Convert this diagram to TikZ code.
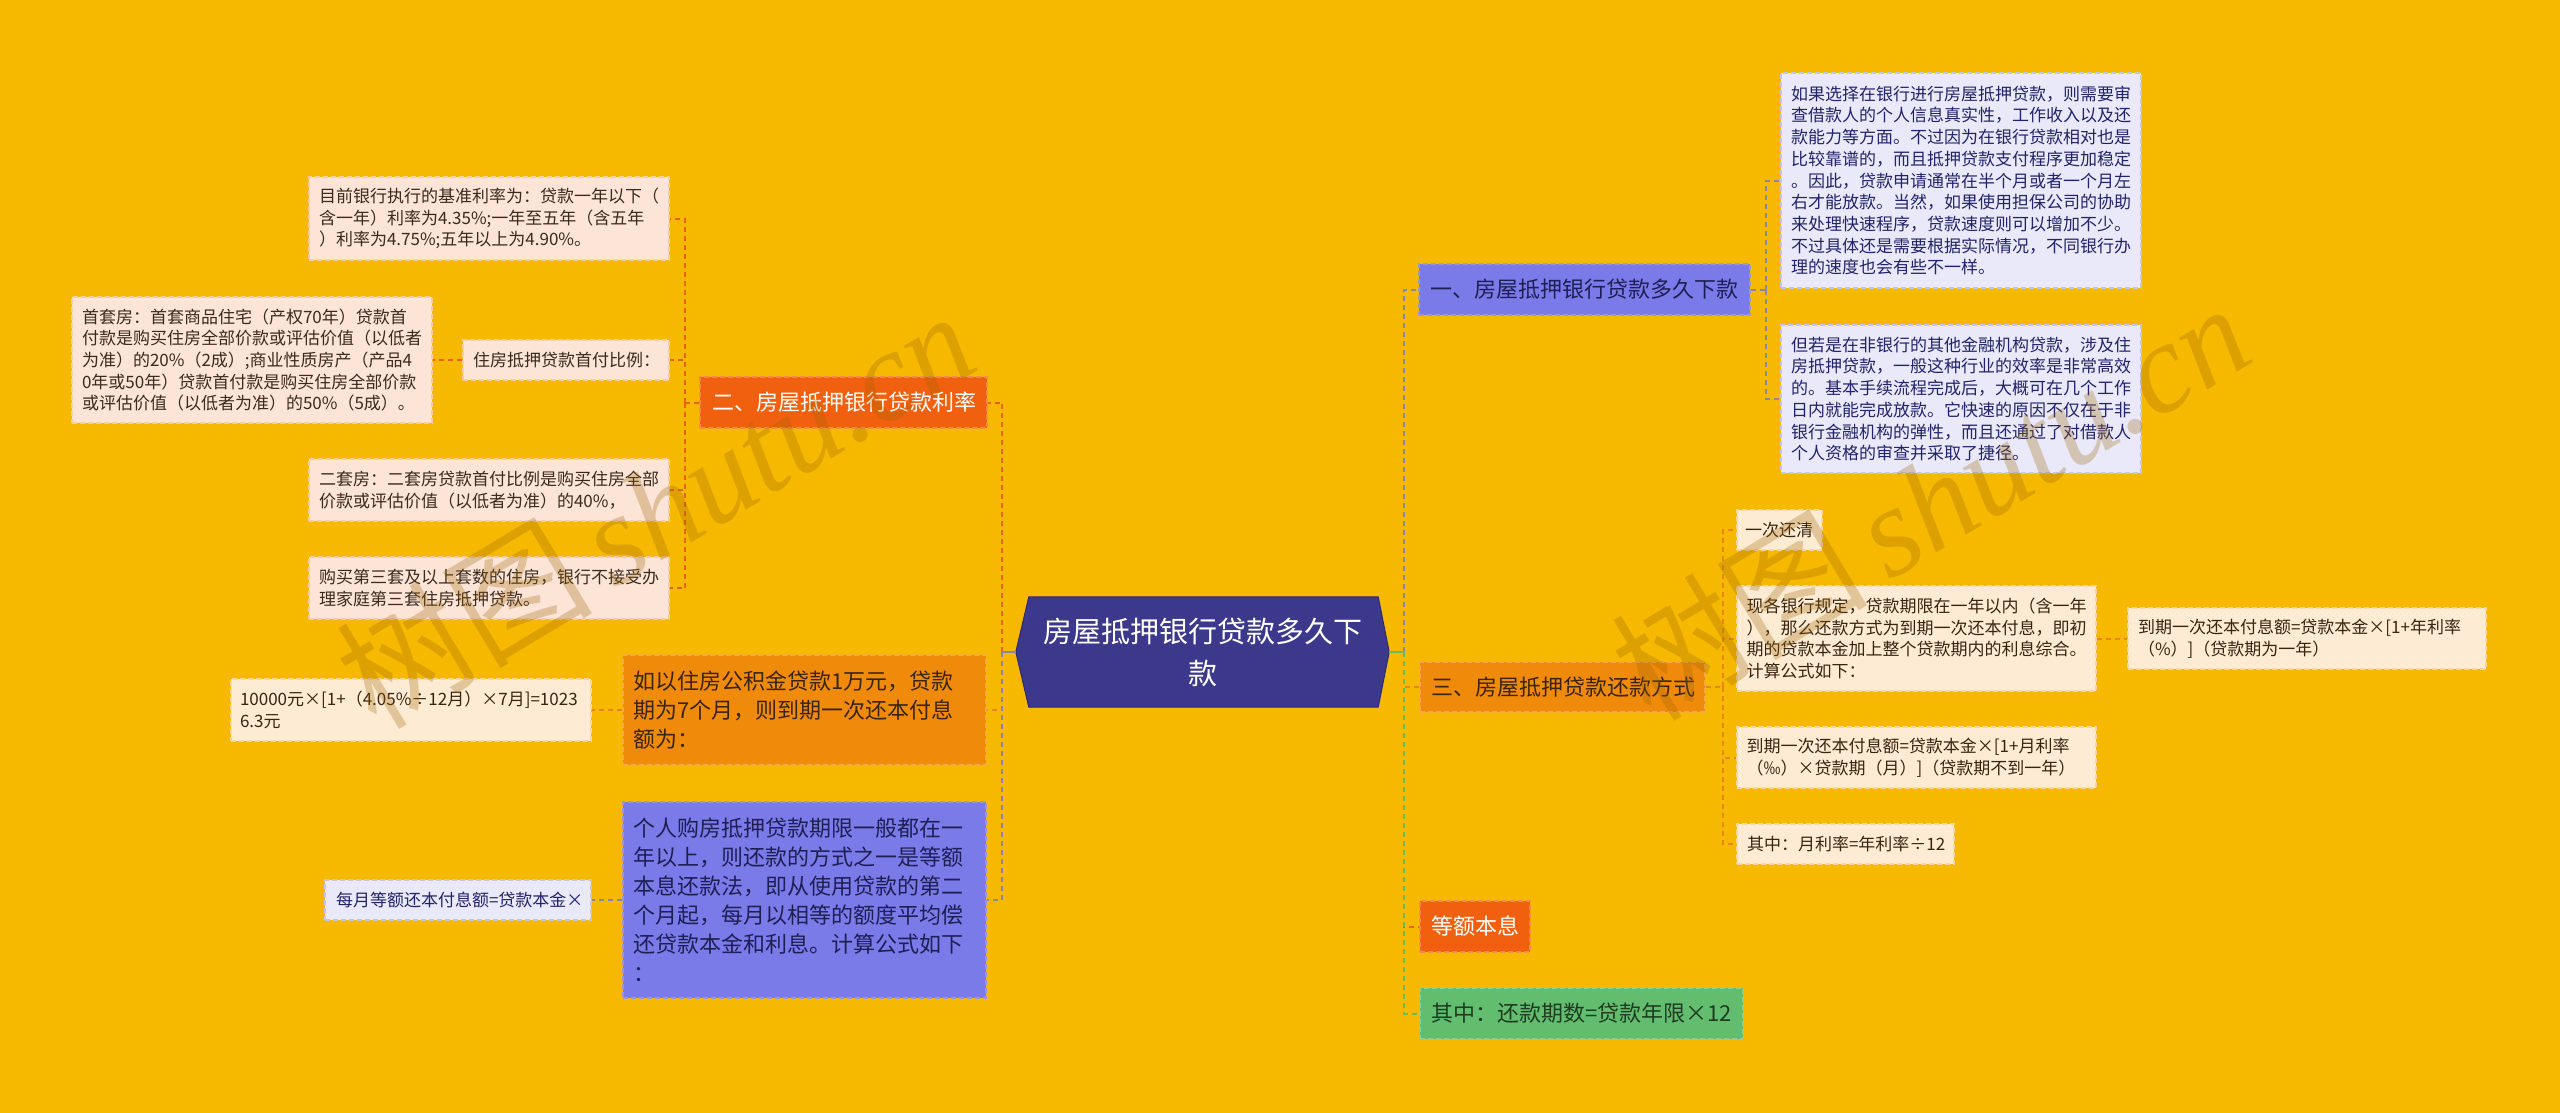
\documentclass[tikz,border=0pt]{standalone}
\usepackage{fontspec}
\setmainfont{Noto Sans CJK SC}
\newfontfamily\wmlatin{Liberation Serif}
\usetikzlibrary{backgrounds}
\definecolor{bgc}{HTML}{F6B900}
\definecolor{centerfill}{HTML}{3C388C}
\definecolor{centerline}{HTML}{2E2A70}
\definecolor{peach}{HTML}{FCE4D6}
\definecolor{peachline}{HTML}{F5CDAA}
\definecolor{cream}{HTML}{FDEBD3}
\definecolor{creamline}{HTML}{F5D6A6}
\definecolor{lav}{HTML}{E9E9F9}
\definecolor{lavline}{HTML}{C4C4EC}
\definecolor{redf}{HTML}{F0600F}
\definecolor{redl}{HTML}{F58A4A}
\definecolor{orf}{HTML}{F08A0A}
\definecolor{orl}{HTML}{F5A848}
\definecolor{bluef}{HTML}{7A7AE8}
\definecolor{bluel}{HTML}{9A98D0}
\definecolor{greenf}{HTML}{62BE6E}
\definecolor{greenl}{HTML}{8AD396}
\definecolor{tpeach}{HTML}{3B2A1E}
\definecolor{tnavy}{HTML}{23236B}
\definecolor{tdark}{HTML}{3A2410}
\definecolor{tblue}{HTML}{1F1F55}
\definecolor{tgreen}{HTML}{1F3B22}
\definecolor{cred}{HTML}{E8621A}
\definecolor{corange}{HTML}{E8861A}
\definecolor{cgray}{HTML}{8A86AA}
\definecolor{cgreen}{HTML}{6ABD55}
\definecolor{wmc}{HTML}{9A6400}
\tikzset{
  conn/.style={line width=2pt, dash pattern=on 5pt off 4pt},
  solidconn/.style={line width=2pt},
  nd/.style={rectangle, inner xsep=10pt, inner ysep=0pt, align=left, line width=1.3pt, dash pattern=on 5pt off 3pt},
  leaf/.style={nd, font=\fontsize{17}{21.7}\selectfont},
  branch/.style={nd, font=\fontsize{22}{29}\selectfont},
  peachbox/.style={fill=peach, draw=peachline, text=tpeach},
  creambox/.style={fill=cream, draw=creamline, text=tdark},
  lavbox/.style={fill=lav, draw=lavline, text=tnavy},
  redbox/.style={fill=redf, draw=redl, text=white},
  orangebox/.style={fill=orf, draw=orl, text=tdark},
  bluebox/.style={fill=bluef, draw=bluel, text=tblue},
  greenbox/.style={fill=greenf, draw=greenl, text=tgreen},
  wm/.style={text=wmc, opacity=0.28, inner sep=0pt},
}
\begin{document}
\begin{tikzpicture}[x=1pt,y=-1pt]
\useasboundingbox (0,0) rectangle (2560,1113);

% center
\node[align=center, text=white, minimum width=373pt, minimum height=110pt, inner sep=0pt,
      font=\fontsize{29}{42}\selectfont] (C) at (1202.5,652) {房屋抵押银行贷款多久下\\款};

% left: branch 2
\node[branch, redbox, text width=263pt, minimum height=51pt, inner xsep=12pt] (B2) at (843.5,402.5) {二、房屋抵押银行贷款利率};
\node[leaf, peachbox, text width=340pt, minimum height=83pt] (L1) at (489,218.5)
  {目前银行执行的基准利率为：贷款一年以下（\\含一年）利率为4.35\%;一年至五年（含五年\\）利率为4.75\%;五年以上为4.90\%。};
\node[leaf, peachbox, text width=186pt, minimum height=40pt] (L2) at (566,360) {住房抵押贷款首付比例：};
\node[leaf, peachbox, text width=340pt, minimum height=126pt] (L2a) at (252,360)
  {首套房：首套商品住宅（产权70年）贷款首\\付款是购买住房全部价款或评估价值（以低者\\为准）的20\%（2成）;商业性质房产（产品4\\0年或50年）贷款首付款是购买住房全部价款\\或评估价值（以低者为准）的50\%（5成）。};
\node[leaf, peachbox, text width=340pt, minimum height=62pt] (L3) at (489,490)
  {二套房：二套房贷款首付比例是购买住房全部\\价款或评估价值（以低者为准）的40\%，};
\node[leaf, peachbox, text width=340pt, minimum height=62pt] (L4) at (489,588)
  {购买第三套及以上套数的住房，银行不接受办\\理家庭第三套住房抵押贷款。};

% left: branch 4
\node[branch, orangebox, text width=343pt, minimum height=110pt] (B4) at (804.5,710)
  {如以住房公积金贷款1万元，贷款\\期为7个月，则到期一次还本付息\\额为：};
\node[leaf, creambox, text width=342pt, minimum height=62pt, inner xsep=9pt] (B4c) at (411,710)
  {10000元×[1+（4.05\%÷12月）×7月]=1023\\6.3元};

% left: branch 5
\node[branch, bluebox, text width=343pt, minimum height=196pt] (B5) at (804.5,900)
  {个人购房抵押贷款期限一般都在一\\年以上，则还款的方式之一是等额\\本息还款法，即从使用贷款的第二\\个月起，每月以相等的额度平均偿\\还贷款本金和利息。计算公式如下\\：};
\node[leaf, lavbox, text width=244pt, minimum height=40pt, inner xsep=11pt] (B5c) at (458,900) {每月等额还本付息额=贷款本金×};

% right: branch 1
\node[branch, bluebox, text width=309pt, minimum height=51pt, inner xsep=11pt] (B1) at (1584.5,289.5) {一、房屋抵押银行贷款多久下款};
\node[leaf, lavbox, text width=340pt, minimum height=215pt] (R1a) at (1961,180.5)
  {如果选择在银行进行房屋抵押贷款，则需要审\\查借款人的个人信息真实性，工作收入以及还\\款能力等方面。不过因为在银行贷款相对也是\\比较靠谱的，而且抵押贷款支付程序更加稳定\\。因此，贷款申请通常在半个月或者一个月左\\右才能放款。当然，如果使用担保公司的协助\\来处理快速程序，贷款速度则可以增加不少。\\不过具体还是需要根据实际情况，不同银行办\\理的速度也会有些不一样。};
\node[leaf, lavbox, text width=340pt, minimum height=148pt] (R1b) at (1961,399)
  {但若是在非银行的其他金融机构贷款，涉及住\\房抵押贷款，一般这种行业的效率是非常高效\\的。基本手续流程完成后，大概可在几个工作\\日内就能完成放款。它快速的原因不仅在于非\\银行金融机构的弹性，而且还通过了对借款人\\个人资格的审查并采取了捷径。};

% right: branch 3
\node[branch, orangebox, text width=263pt, minimum height=50pt, inner xsep=11pt] (B3) at (1562.5,687) {三、房屋抵押贷款还款方式};
\node[leaf, creambox, text width=69pt, minimum height=40pt, inner xsep=8pt] (R3a) at (1779.5,530) {一次还清};
\node[leaf, creambox, text width=340pt, minimum height=105pt, inner xsep=9.5pt] (R3b) at (1916.5,638.5)
  {现各银行规定，贷款期限在一年以内（含一年\\），那么还款方式为到期一次还本付息，即初\\期的贷款本金加上整个贷款期内的利息综合。\\计算公式如下：};
\node[leaf, creambox, text width=338pt, minimum height=61pt] (R3bc) at (2307,638.5)
  {到期一次还本付息额=贷款本金×[1+年利率\\（\%）]（贷款期为一年）};
\node[leaf, creambox, text width=340pt, minimum height=61pt, inner xsep=9.5pt] (R3c) at (1916.5,757.5)
  {到期一次还本付息额=贷款本金×[1+月利率\\（‰）×贷款期（月）]（贷款期不到一年）};
\node[leaf, creambox, text width=197pt, minimum height=40pt] (R3d) at (1845.5,844) {其中：月利率=年利率÷12};

% right: branches 6, 7
\node[branch, redbox, text width=88pt, minimum height=51pt, inner xsep=11pt] (B6) at (1475,926.5) {等额本息};
\node[branch, greenbox, text width=301pt, minimum height=51pt, inner xsep=11pt] (B7) at (1581.5,1013.5) {其中：还款期数=贷款年限×12};

% background and hexagon
\begin{scope}[on background layer]
  \fill[bgc] (0,0) rectangle (2560,1113);
  \filldraw[fill=centerfill, draw=centerline, line width=1pt]
    (C.west) -- ([xshift=13pt]C.north west) -- ([xshift=-11pt]C.north east) -- (C.east)
    -- ([xshift=-11pt]C.south east) -- ([xshift=13pt]C.south west) -- cycle;
\end{scope}

% junctions
\coordinate (jl) at (1002,652);
\coordinate (j2) at (685,402.5);
\coordinate (jr) at (1404,652);
\coordinate (j1) at (1766,289.5);
\coordinate (j3) at (1723,687);

% left connectors
\draw[conn, cred] (jl) |- (B2.east);
\draw[conn, corange] (jl) |- (B4.east);
\draw[conn, cgray] (jl) |- (B5.east);
\draw[solidconn, cgray] (C.west) -- (jl);
\draw[conn, cred] (B2.west) -- (j2);
\draw[conn, cred] (j2) |- (L1.east);
\draw[conn, cred] (j2) |- (L2.east);
\draw[conn, cred] (j2) |- (L3.east);
\draw[conn, cred] (j2) |- (L4.east);
\draw[conn, cred] (L2.west) -- (L2a.east);
\draw[conn, corange] (B4.west) -- (B4c.east);
\draw[conn, cgray] (B5.west) -- (B5c.east);

% right connectors
\draw[conn, cgray] (jr) |- (B1.west);
\draw[conn, corange] (jr) |- (B3.west);
\draw[conn, cred] (jr) |- (B6.west);
\draw[conn, cgreen] (jr) |- (B7.west);
\draw[solidconn, cgreen] (C.east) -- (jr);
\draw[conn, cgray] (B1.east) -- (j1);
\draw[conn, cgray] (j1) |- (R1a.west);
\draw[conn, cgray] (j1) |- (R1b.west);
\draw[conn, corange] (B3.east) -- (j3);
\draw[conn, corange] (j3) |- (R3a.west);
\draw[conn, corange] (j3) |- (R3b.west);
\draw[conn, corange] (j3) |- (R3c.west);
\draw[conn, corange] (j3) |- (R3d.west);
\draw[conn, corange] (R3b.east) -- (R3bc.west);

% watermarks
\node[wm, rotate=31] (wmL) at (655,508) {\fontsize{128}{128}\selectfont 树图\,{\wmlatin\itshape shutu.cn}};
\node[wm, rotate=31] (wmR) at (1930,500) {\fontsize{128}{128}\selectfont 树图\,{\wmlatin\itshape shutu.cn}};
\end{tikzpicture}
\end{document}
